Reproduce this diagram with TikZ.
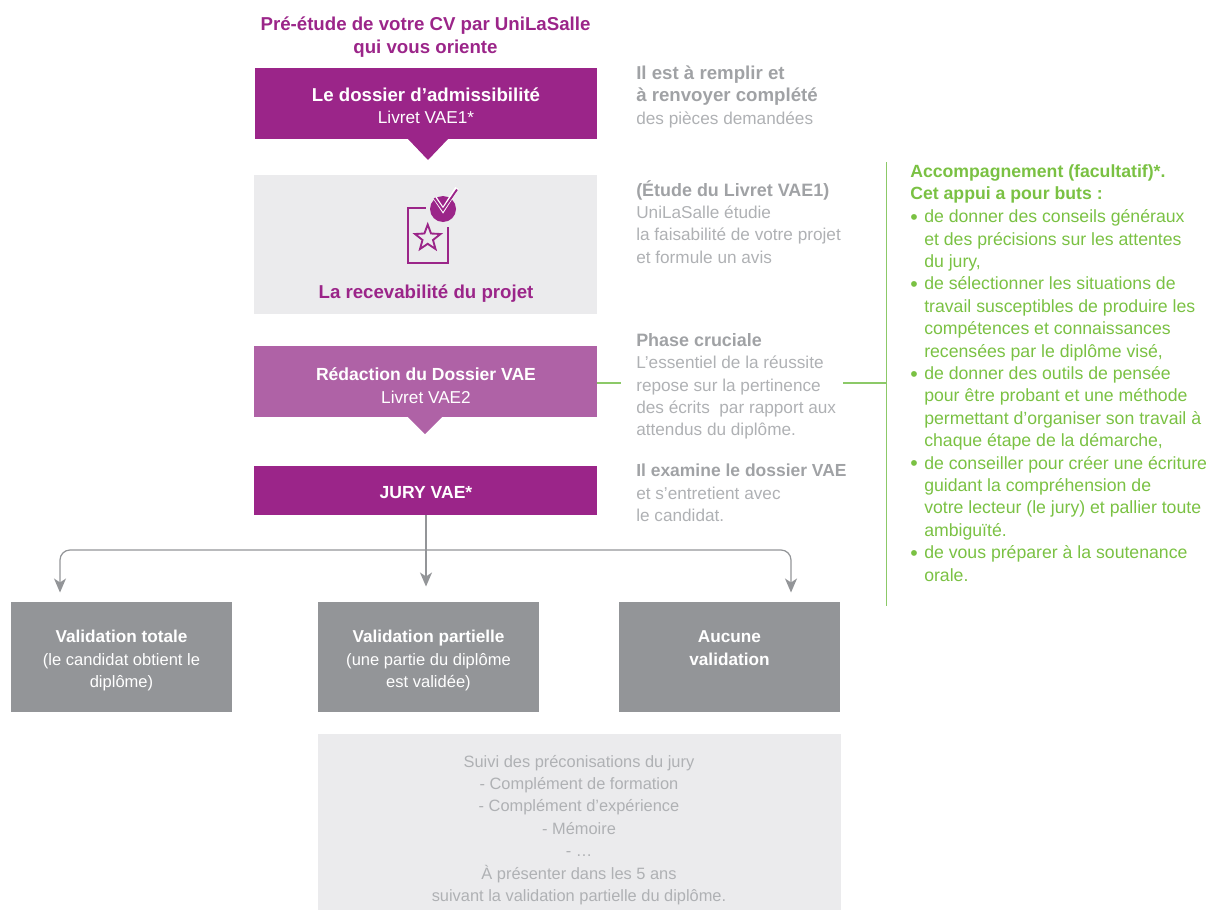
\documentclass[tikz,border=0pt]{standalone}
\usepackage{fontspec}
\setmainfont{Liberation Sans}
\usetikzlibrary{arrows.meta}
\definecolor{purp}{HTML}{9B2589}
\definecolor{lpurp}{HTML}{AF62A6}
\definecolor{lgrey}{HTML}{EBEBED}
\definecolor{mgrey}{HTML}{939598}
\definecolor{tgrey}{HTML}{AFB1B4}
\definecolor{bgrey}{HTML}{A0A2A5}
\definecolor{grn}{HTML}{7AC143}
\definecolor{lgrn}{HTML}{8CC968}
\newcommand{\txt}{\fontsize{12.9}{16.8}\selectfont}
\newcommand{\bigb}{\fontsize{14}{16.8}\selectfont\bfseries}
\newcommand{\nb}[2]{\textcolor{bgrey}{\fontsize{#1}{16.8}\selectfont\bfseries #2}}
\newcommand{\grt}{\fontsize{13.25}{16.8}\selectfont}
\newcommand{\bul}{\makebox[10.5pt][l]{\raisebox{-1.2pt}{\fontsize{16}{16.8}\selectfont •}}}
\newcommand{\ind}{\hspace*{10.5pt}}
\tikzset{
 x=0.75pt,y=-0.75pt,
 tbox/.style={inner sep=0pt,outer sep=0pt,align=center,text=white},
 note/.style={anchor=north west,inner sep=0pt,align=left,text=tgrey,font=\txt},
 green note/.style={anchor=north west,inner sep=0pt,align=left,text=grn,font=\grt},
 link/.style={lgrn,line width=0.9pt},
 flow/.style={mgrey,line width=0.9pt,-{Stealth[length=10.5pt,width=9pt,inset=3pt]}},
 icon/.style={purp,line width=1.4pt,fill=none}
}
\begin{document}
\begin{tikzpicture}
\useasboundingbox (0,0) rectangle (1206,910);
% boxes
\fill[purp] (255,68) rectangle (597,139);
\fill[purp] (408,139) -- (448,139) -- (428,160) -- cycle;
\fill[lgrey] (254,175) rectangle (597,314);
\fill[lpurp] (254,346) rectangle (597,417);
\fill[lpurp] (408,417) -- (442,417) -- (425,434) -- cycle;
\fill[purp] (254,466) rectangle (597,515);
\fill[mgrey] (11,602) rectangle (232,712);
\fill[mgrey] (318,602) rectangle (539,712);
\fill[mgrey] (619,602) rectangle (840,712);
\fill[lgrey] (318,734) rectangle (841,910);
% labels
\node[tbox,text=purp,font=\bigb] (title) at (425.5,37) {Pré-étude de votre CV par UniLaSalle\\qui vous oriente};
\node[tbox,font=\txt] (dossier) at (426,105.5) {{\bigb Le dossier d’admissibilité}\\Livret VAE1*};
\node[tbox,text=purp,font=\bigb] (recev) at (426,294) {La recevabilité du projet};
\node[tbox,font=\txt] (redac) at (426,385.5) {{\fontsize{13.15}{16.8}\selectfont\bfseries Rédaction du Dossier VAE}\\Livret VAE2};
\node[tbox,font=\fontsize{13.15}{16.8}\selectfont\bfseries] (jury) at (426,492.5) {JURY VAE*};
\coordinate (jurybot) at (426,515);
\node[tbox,font=\fontsize{12.4}{16.8}\selectfont] (vt) at (121.5,660.5) {{\fontsize{12.9}{16.8}\selectfont\bfseries Validation totale}\\(le candidat obtient le\\diplôme)};
\node[tbox,font=\fontsize{12.4}{16.8}\selectfont] (vp) at (428.5,660.5) {{\fontsize{12.9}{16.8}\selectfont\bfseries Validation partielle}\\(une partie du diplôme\\est validée)};
\node[tbox,font=\txt\bfseries] (va) at (729.5,648) {Aucune\\validation};
\node[tbox,text=tgrey,font=\fontsize{12.3}{16.8}\selectfont] (suivi) at (579,830) {Suivi des préconisations du jury\\- Complément de formation\\- Complément d’expérience\\- Mémoire\\- …\\À présenter dans les 5 ans\\suivant la validation partielle du diplôme.};
% notes
\node[note] (n1) at (636,65.5) {\nb{14}{Il est à remplir et}\\\nb{14}{à renvoyer complété}\\des pièces demandées};
\node[note] (n2) at (636,180) {\nb{13.45}{(Étude du Livret VAE1)}\\UniLaSalle étudie\\la faisabilité de votre projet\\et formule un avis};
\node[note] (n3) at (636,333) {\nb{13.45}{Phase cruciale}\\L’essentiel de la réussite\\repose sur la pertinence\\des écrits~ par rapport aux\\attendus du diplôme.};
\node[note] (n4) at (636,464) {\nb{13.1}{Il examine le dossier VAE}\\et s’entretient avec\\le candidat.};
\node[green note] (acc) at (910,164) {\textbf{Accompagnement (facultatif)*.}\\\textbf{Cet appui a pour buts :}};
\node[green note] (l1) at (910,209.5) {\bul de donner des conseils généraux\\\ind et des précisions sur les attentes\\\ind du jury,\\\bul de sélectionner les situations de\\\ind travail susceptibles de produire les\\\ind compétences et connaissances\\\ind recensées par le diplôme visé,\\\bul de donner des outils de pensée\\\ind pour être probant et une méthode\\\ind permettant d’organiser son travail à\\\ind chaque étape de la démarche,\\\bul de conseiller pour créer une écriture\\\ind guidant la compréhension de\\\ind votre lecteur (le jury) et pallier toute\\\ind ambiguïté.\\\bul de vous préparer à la soutenance\\\ind orale.};
% icon
\draw[icon] (425.7,208) -- (407.7,208) -- (407.7,263) -- (448,263) -- (448,227);
\fill[purp] (443,209) circle (13);
\draw[white,line width=3pt] (435,198) -- (443,210) -- (457,188);
\draw[purp,line width=1.4pt] (434.5,198) -- (443,210) -- (457,189.5);
\draw[icon] (427.7,224.5) -- (431,233.5) -- (440.5,234) -- (433,240) -- (435.5,249) -- (427.7,243.8) -- (420,249) -- (422.5,240) -- (415,234) -- (424.4,233.5) -- cycle;
% green links
\coordinate (g1) at (597,383);
\coordinate (g2) at (621,383);
\coordinate (g3) at (843,383);
\coordinate (g4) at (886.5,383);
\coordinate (gt) at (886.5,162);
\coordinate (gb) at (886.5,606);
\draw[link] (g1) -- (g2);
\draw[link] (g3) -- (g4);
\draw[link] (gt) -- (gb);
% connectors
\coordinate (al) at (60,592.5);
\coordinate (am) at (426,586.5);
\coordinate (ar) at (791,592.5);
\coordinate (bl) at (426,550);
\draw[flow] (jurybot) -- (am);
\draw[flow,rounded corners=7.5pt] (bl) -- (al |- bl) -- (al);
\draw[flow,rounded corners=7.5pt] (bl) -- (ar |- bl) -- (ar);
\end{tikzpicture}
\end{document}
